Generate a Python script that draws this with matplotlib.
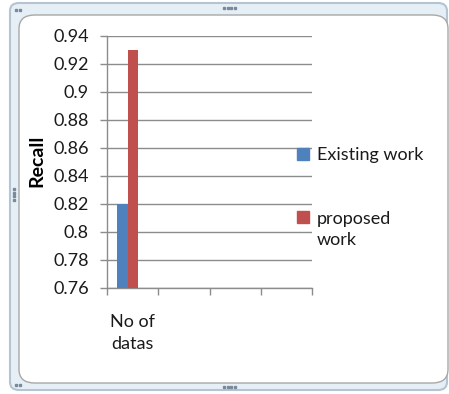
import matplotlib
matplotlib.use("Agg")
import matplotlib.pyplot as plt
from matplotlib.patches import FancyBboxPatch, Rectangle
import numpy as np

categories = ["No of\ndatas", "", "", ""]
series_names = ["Existing work", "proposed\nwork"]
existing_work = [0.82, np.nan, np.nan, np.nan]
proposed_work = [0.93, np.nan, np.nan, np.nan]
y_ticks = [0.76, 0.78, 0.8, 0.82, 0.84, 0.86, 0.88, 0.9, 0.92, 0.94]
y_tick_labels = ["0.76", "0.78", "0.8", "0.82", "0.84", "0.86", "0.88", "0.9", "0.92", "0.94"]
colors = ["#4F81BD", "#C0504D"]

plt.rcParams['font.family'] = ['Lato', 'DejaVu Sans']
FS = 13
TXT = "#1a1a1a"

W, H = 449, 394
fig = plt.figure(figsize=(W / 100, H / 100), dpi=100)

# outer frame
outer = FancyBboxPatch((10 / W, 4 / H), 437 / W, 387 / H,
                       boxstyle="round,pad=0,rounding_size=0.02",
                       transform=fig.transFigure, facecolor="#e6eff5",
                       edgecolor="#b4c4d2", linewidth=1.5, zorder=-3)
fig.patches.append(outer)
inner = FancyBboxPatch((19 / W, 11 / H), 429 / W, 368 / H,
                       boxstyle="round,pad=0,rounding_size=0.035",
                       transform=fig.transFigure, facecolor="white",
                       edgecolor="#a8a8a8", linewidth=1.0, zorder=-2)
fig.patches.append(inner)
# handle dots
for (cx, cy) in [(229, 8), (229, 387)]:
    for k in range(4):
        fig.patches.append(Rectangle(((cx - 6 + k * 3.5) / W, (H - cy - 1) / H), 2 / W, 2 / H,
                                     transform=fig.transFigure, color="#7a8a9a", zorder=-1))
for k in range(4):
    fig.patches.append(Rectangle((13 / W, (H - 190 - k * 3.5) / H), 2 / W, 2 / H,
                                 transform=fig.transFigure, color="#7a8a9a", zorder=-1))
for (cx, cy) in [(15, 11), (19, 11), (15, 386), (19, 386)]:
    fig.patches.append(Rectangle((cx / W, (H - cy) / H), 2 / W, 2 / H,
                                 transform=fig.transFigure, color="#7a8a9a", zorder=-1))

ax = fig.add_axes([107 / W, 1 - 288 / H, 205 / W, 252 / H])
ax.set_zorder(5)
ax.set_facecolor("none")
x = np.arange(len(categories))
bw = 0.21
ax.bar(x - 0.31 + bw / 2, existing_work, width=bw, color=colors[0], label=series_names[0], zorder=3)
ax.bar(x - 0.31 + bw * 1.5, proposed_work, width=bw, color=colors[1], label=series_names[1], zorder=3)

ax.set_xlim(-0.5, len(categories) - 0.5)
ax.set_ylim(0.76, 0.94)
ax.set_yticks(y_ticks)
ax.set_yticklabels(y_tick_labels, fontsize=FS, color=TXT)
ax.yaxis.grid(True, color="#8c8c8c", linewidth=1.0, zorder=0)
ax.set_axisbelow(True)

ax.set_xticks(x)
ax.set_xticklabels(categories, fontsize=FS, color=TXT, linespacing=1.45, ha="center")
ax.tick_params(axis="x", length=0, pad=19)
ax.set_xticks(np.arange(len(categories) + 1) - 0.5, minor=True)
ax.tick_params(axis="x", which="minor", length=5, color="#8c8c8c", width=1)
ax.tick_params(axis="y", length=5, color="#8c8c8c", width=1, pad=8)

for s in ["top", "right"]:
    ax.spines[s].set_visible(False)
for s in ["left", "bottom"]:
    ax.spines[s].set_color("#8c8c8c")
    ax.spines[s].set_linewidth(1.0)

fig.text(37 / W, 1 - 161 / H, "Recall", rotation=90, fontsize=14, fontweight="bold",
         ha="center", va="center", color="black")

# legend (drawn manually to match Excel layout)
leg_rows = [(154, 155), (217, 229.5)]  # (square centre y, text centre y) in px
for (sq_y, tx_y), name, col in zip(leg_rows, series_names, colors):
    fig.patches.append(Rectangle((297 / W, (H - sq_y - 6) / H), 12 / W, 12 / H,
                                 transform=fig.transFigure, color=col, zorder=6))
    fig.text(317 / W, 1 - tx_y / H, name, fontsize=FS, color=TXT, ha="left",
             va="center", linespacing=1.45)

fig.savefig("out.png", dpi=100)
